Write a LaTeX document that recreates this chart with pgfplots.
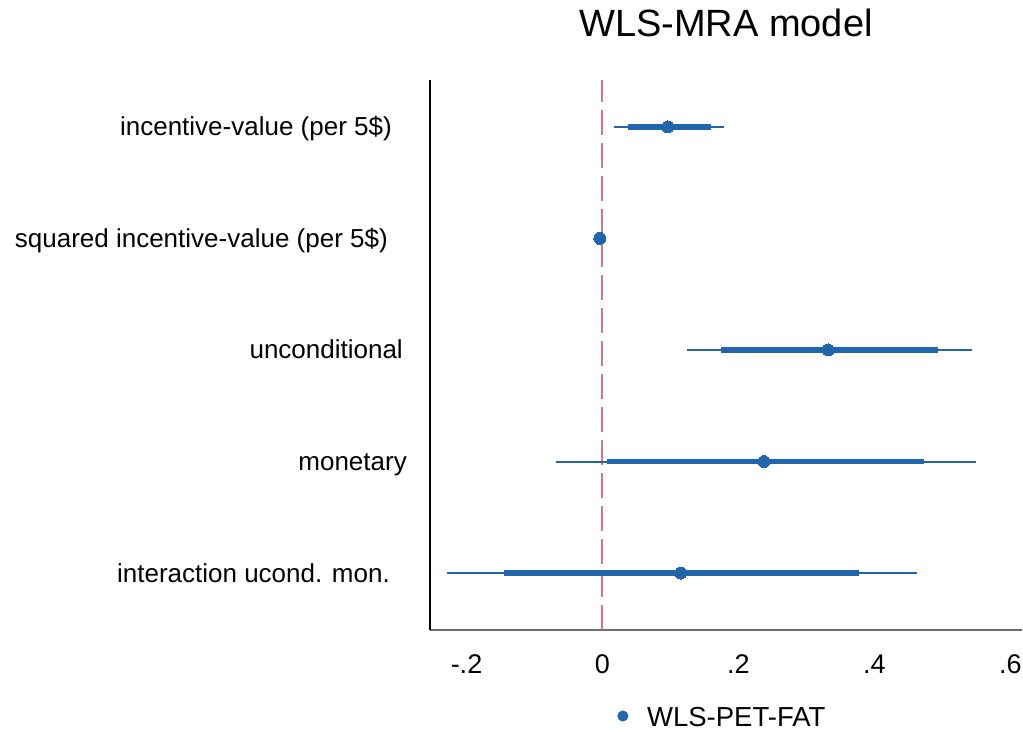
\documentclass[border=0pt]{standalone}
\usepackage{pgfplots}
\pgfplotsset{compat=1.18}
\usepackage{pgfplotstable}
\usepackage{fontspec}
\setmainfont{Liberation Sans}
\definecolor{stblue}{RGB}{33,102,172}
\definecolor{zline}{RGB}{214,118,132}
\definecolor{axgray}{RGB}{110,110,110}

% y: row position (5 = top), est: point estimate, lo95/hi95: thin CI, lo90/hi90: thick CI
\pgfplotstableread{
y est lo95 hi95 lo90 hi90
5 0.096 0.0174 0.179 0.0375 0.160
4 -0.004 -0.005 -0.003 -0.005 -0.003
3 0.332 0.124 0.544 0.175 0.493
2 0.2375 -0.0684 0.549 0.007 0.473
1 0.115 -0.228 0.462 -0.145 0.377
}\datatable

\begin{document}
\begin{tikzpicture}
\path[use as bounding box] (0,0) rectangle (1023bp,732bp);
\begin{axis}[
  at={(430bp,102bp)}, anchor=south west,
  scale only axis, width=592bp, height=550bp,
  xmin=-0.2537, xmax=0.617, ymin=0.49, ymax=5.42,
  axis x line*=bottom, axis y line*=left,
  axis line style={-, line width=1.2bp},
  x axis line style={draw=axgray},
  y axis line style={draw=black},
  major tick length=0pt,
  xtick={-0.2,0,0.2,0.4,0.6}, xticklabels={-.2,0,.2,.4,.6},
  ytick={1,2,3,4,5},
  yticklabels={interaction ucond. mon.\kern17bp, monetary, unconditional\kern4bp, squared incentive-value (per 5\$)\kern19bp, incentive-value (per 5\$)\kern15bp},
  xticklabel style={font=\fontsize{27bp}{32bp}\selectfont, anchor=base, inner sep=0pt, yshift=-43bp},
  yticklabel style={font=\fontsize{26bp}{31bp}\selectfont, anchor=base east, inner sep=0pt, xshift=-23bp, yshift=-9bp},
  title={WLS-MRA model},
  title style={font=\fontsize{38bp}{45bp}\selectfont, at={(0.5,1)}, anchor=base, yshift=38bp, inner sep=0pt},
  legend style={draw=none, at={(0.3166,-0.16)}, anchor=west, inner sep=0pt, outer sep=0pt,
    nodes={inner sep=0pt}, font=\fontsize{27.5bp}{32bp}\selectfont},
  legend image code/.code={\fill[stblue] (0bp,2bp) circle (5.3bp); \path (-5.3bp,0bp) (24bp,0bp);},
  clip=false,
]
\addplot[forget plot, zline, line width=2bp, dash pattern=on 25bp off 8bp] coordinates {(0,0.49) (0,5.42)};
\addplot[forget plot, only marks, mark=none, error bars/.cd, x dir=both, x explicit, error mark=none,
  error bar style={draw=stblue, line width=2bp}]
  table[x=est, y=y, x error minus expr=\thisrow{est}-\thisrow{lo95}, x error plus expr=\thisrow{hi95}-\thisrow{est}] {\datatable};
\addplot[forget plot, only marks, mark=none, error bars/.cd, x dir=both, x explicit, error mark=none,
  error bar style={draw=stblue, line width=5.5bp}]
  table[x=est, y=y, x error minus expr=\thisrow{est}-\thisrow{lo90}, x error plus expr=\thisrow{hi90}-\thisrow{est}] {\datatable};
\addplot[only marks, mark=*, mark size=6bp, color=stblue, mark options={fill=stblue, draw=stblue, line width=0pt}]
  table[x=est, y=y] {\datatable};
\addlegendentry{WLS-PET-FAT}
\end{axis}
\end{tikzpicture}
\end{document}
